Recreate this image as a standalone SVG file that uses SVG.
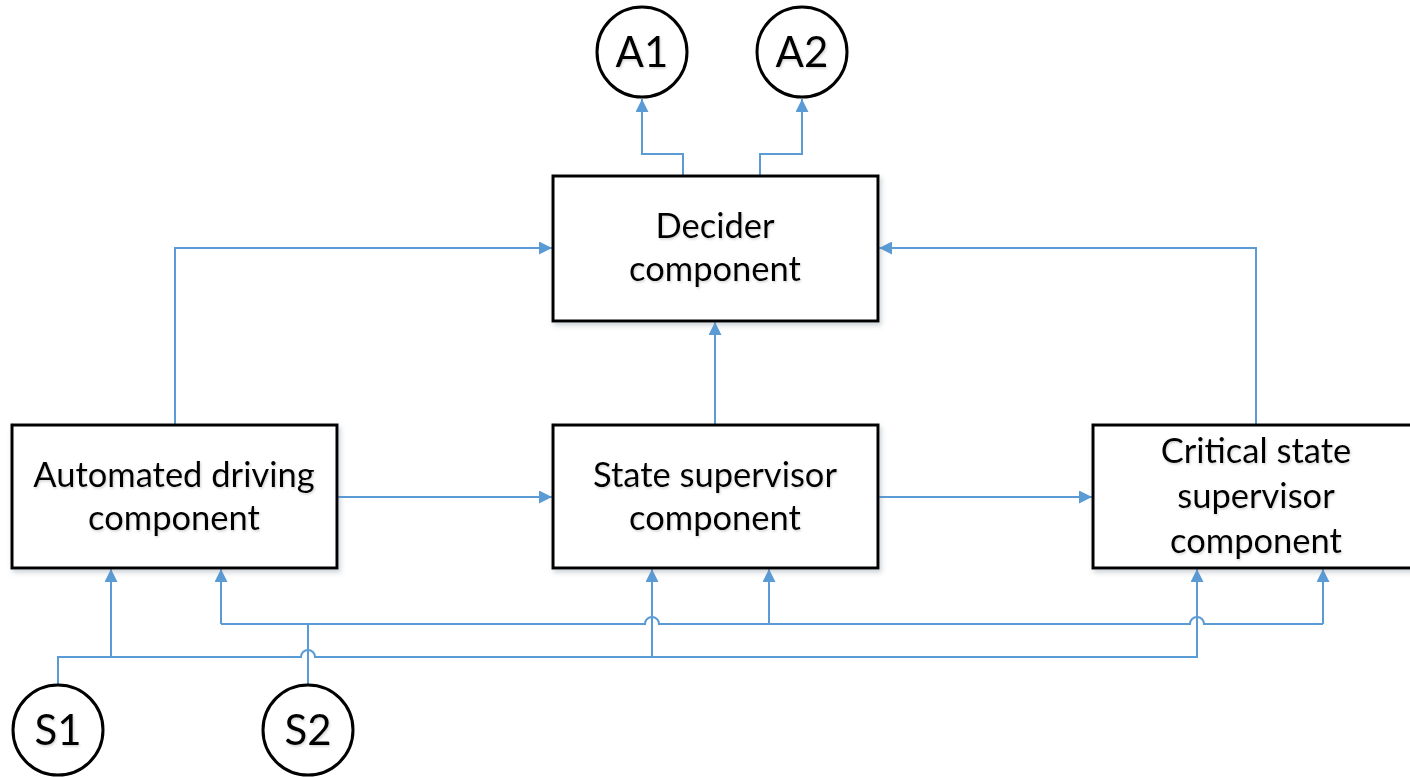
<svg xmlns="http://www.w3.org/2000/svg" width="1410" height="777" viewBox="0 0 1410 777">
  <style>
    .box { fill: #ffffff; stroke: #000000; stroke-width: 3; filter: url(#shadow); }
    .circ { fill: #ffffff; stroke: #000000; stroke-width: 3; }
    .lbl { font-family: Lato, "Open Sans", "Liberation Sans", sans-serif; font-size: 34.5px; fill: #000000; text-anchor: middle; filter: url(#tshadow); }
    .io { font-family: Lato, "Open Sans", "Liberation Sans", sans-serif; font-size: 42px; fill: #000000; text-anchor: middle; filter: url(#tshadow); }
    .wire { fill: none; stroke: #5B9BD5; stroke-width: 2; }
    .arrow { fill: none; stroke: #5B9BD5; stroke-width: 2; marker-end: url(#head); }
  </style>
  <defs>
    <filter id="shadow" x="-10%" y="-10%" width="120%" height="130%">
      <feDropShadow dx="2" dy="3" stdDeviation="2.5" flood-color="#6f7f8f" flood-opacity="0.35"/>
    </filter>
    <filter id="tshadow" x="-10%" y="-20%" width="120%" height="150%">
      <feDropShadow dx="1" dy="1.5" stdDeviation="1" flood-color="#808080" flood-opacity="0.35"/>
    </filter>
    <marker id="head" viewBox="0 0 13 13" refX="13" refY="6.5" markerWidth="13" markerHeight="13" markerUnits="userSpaceOnUse" orient="auto">
      <path d="M0,0 L13,6.5 L0,13 Z" fill="#5B9BD5"/>
    </marker>
  </defs>

  <!-- connectors -->
  <g id="connectors">
    <!-- decider to actuators -->
    <path class="arrow" d="M683,176 V154 H642 V99"/>
    <path class="arrow" d="M760,176 V154 H802 V99"/>
    <!-- components to decider -->
    <path class="arrow" d="M175,425 V248 H552"/>
    <path class="arrow" d="M1256,425 V248 H879"/>
    <path class="arrow" d="M715,425 V322"/>
    <!-- component chain -->
    <path class="arrow" d="M338,497 H552"/>
    <path class="arrow" d="M879,497 H1092"/>
    <!-- sensor S1 bus -->
    <path class="wire" d="M58,684 V657 H301 A7,7 0 0 1 315,657 H1197 V635"/>
    <path class="arrow" d="M111,657 V569"/>
    <path class="arrow" d="M652,657 V569"/>
    <path class="arrow" d="M1197,640 V569"/>
    <!-- sensor S2 bus -->
    <path class="wire" d="M308,684 V624"/>
    <path class="wire" d="M221,624 H645 A7,7 0 0 1 659,624 H1190 A7,7 0 0 1 1204,624 H1323"/>
    <path class="arrow" d="M221,624 V569"/>
    <path class="arrow" d="M769,624 V569"/>
    <path class="arrow" d="M1323,624 V569"/>
  </g>

  <!-- actuators -->
  <g id="A1">
    <circle class="circ" cx="642" cy="52" r="45"/>
    <text class="io" x="642" y="67">A1</text>
  </g>
  <g id="A2">
    <circle class="circ" cx="802" cy="52" r="45"/>
    <text class="io" x="802" y="67">A2</text>
  </g>

  <!-- components -->
  <g id="decider">
    <rect class="box" x="553" y="176" width="325" height="145"/>
    <text class="lbl" x="715" y="238">Decider</text>
    <text class="lbl" x="715" y="281">component</text>
  </g>
  <g id="automated-driving">
    <rect class="box" x="12" y="425" width="325" height="143"/>
    <text class="lbl" x="174" y="487">Automated driving</text>
    <text class="lbl" x="174" y="530">component</text>
  </g>
  <g id="state-supervisor">
    <rect class="box" x="553" y="425" width="325" height="143"/>
    <text class="lbl" x="715" y="487">State supervisor</text>
    <text class="lbl" x="715" y="530">component</text>
  </g>
  <g id="critical-state-supervisor">
    <rect class="box" x="1093" y="425" width="360" height="143"/>
    <text class="lbl" x="1256" y="463">Critical state</text>
    <text class="lbl" x="1256" y="508">supervisor</text>
    <text class="lbl" x="1256" y="553">component</text>
  </g>

  <!-- sensors -->
  <g id="S1">
    <circle class="circ" cx="58" cy="730" r="45"/>
    <text class="io" x="58" y="745">S1</text>
  </g>
  <g id="S2">
    <circle class="circ" cx="308" cy="730" r="45"/>
    <text class="io" x="308" y="745">S2</text>
  </g>
</svg>
